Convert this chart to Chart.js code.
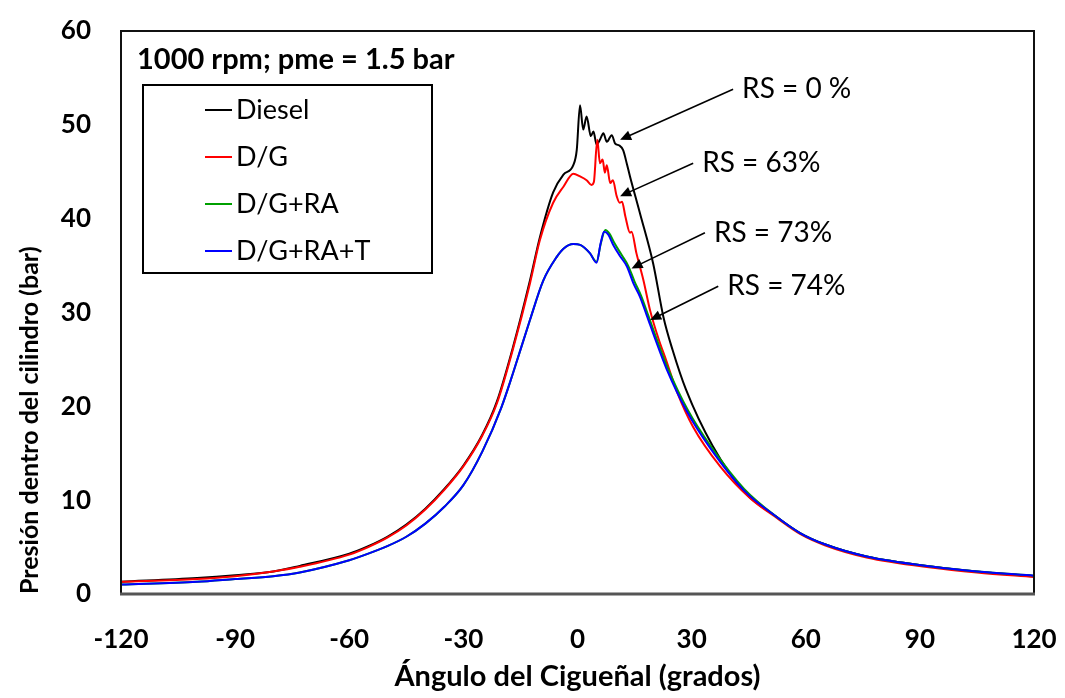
<!DOCTYPE html>
<html>
<head>
<meta charset="utf-8">
<style>
	html, body { margin: 0; padding: 0; background: #fff; }
	.wrapper { width: 1065px; height: 698px; }
</style>
</head>
<body>
<div class="wrapper">
	<canvas id="presion" width="1065" height="698"></canvas>
</div>

<script src="https://cdn.jsdelivr.net/npm/chart.js"></script>

<script>
	// Diesel (RS = 0 %)
	var angDiesel = [-120, -100, -90, -80, -73, -60, -55, -50, -45, -40, -35, -30, -25, -21.2, -16.9, -12.5, -9.9, -6.4, -3.7, -1.1, -0.2,
		0.66, 1.5, 2.4, 3.5, 4.2, 5.0, 6.0, 6.8, 7.7, 9.0, 9.9, 11, 12, 13, 13.8, 16.4, 19.9, 22.6, 25, 28.5, 35.5, 44,
		52.4, 58.5, 65, 76, 93.5, 105, 120];
	var presDiesel = [1.3, 1.7, 2.0, 2.4, 3.0, 4.3, 5.1, 6.1, 7.4, 9.1, 11.2, 13.7, 17.0, 20.5, 26.4, 33.4, 38.0, 42.8, 44.7, 45.7, 47.3,
		52.1, 49.5, 50.9, 48.8, 49.3, 47.9, 48.5, 49.1, 48.2, 48.9, 48.0, 47.8, 47.3, 45.8, 44.5, 40.6, 35.2, 29.5, 26.0, 21.8, 15.8, 10.8,
		8.2, 6.5, 5.3, 4.0, 2.9, 2.4, 1.9];

	// D/G (RS = 63%)
	var angDG = [-120, -100, -90, -80, -73, -60, -55, -50, -45, -40, -35, -30, -25, -21.2, -16.9, -12.5, -9.9, -6.4, -3.7, -1.1, 0.7,
		2.4, 3.7, 4.3, 5.2, 5.9, 6.6, 7.2, 7.7, 8.6, 9.3, 10.3, 11.1, 11.7, 12.6, 13.8, 14.2, 15.5, 17.3, 19.1, 21.3, 23.4, 26.1,
		30.4, 37.5, 45.4, 52.4, 58.5, 65, 76, 93.5, 105, 120];
	var presDG = [1.3, 1.6, 1.9, 2.4, 2.9, 4.2, 5.0, 6.0, 7.3, 9.0, 11.1, 13.6, 16.9, 20.3, 26.2, 33.1, 37.7, 41.7, 43.4, 44.8, 44.5,
		44.1, 43.6, 43.9, 48.4, 45.9, 46.3, 44.9, 45.7, 43.8, 44.1, 42.4, 41.7, 41.8, 40.2, 38.5, 38.6, 36.3, 33.5, 30.2, 27.2, 24.8, 21.6,
		17.8, 13.6, 10.2, 8.1, 6.4, 5.2, 3.9, 2.8, 2.3, 1.8];

	// D/G+RA (RS = 73%)
	var angDGRA = [-120, -100, -90, -80, -73, -60, -55, -50, -45, -40, -35, -30, -25, -20, -16.9, -12.5, -9, -5.5, -3.7, -1.1, 0.7,
		3.3, 5.0, 6.1, 7.3, 8.4, 9.7, 11.5, 13.3, 15.0, 16.7, 18.5, 20.7, 23.7, 29.0, 35.1, 43.8, 52.4, 58.5, 65, 76, 93.5, 105, 120];
	var presDGRA = [1.0, 1.3, 1.6, 1.9, 2.3, 3.6, 4.3, 5.1, 6.1, 7.5, 9.3, 11.6, 15.2, 19.9, 23.6, 29.2, 33.4, 35.9, 36.8, 37.3, 37.2,
		36.3, 35.4, 37.3, 38.8, 38.4, 37.4, 36.2, 35.0, 33.3, 31.8, 29.8, 27.3, 24.1, 19.6, 15.7, 11.2, 8.2, 6.5, 5.3, 4.0, 2.9, 2.4, 1.95];

	// D/G+RA+T (RS = 74%)
	var angDGRAT = [-120, -100, -90, -80, -73, -60, -55, -50, -45, -40, -35, -30, -25, -20, -16.9, -12.5, -9, -5.5, -3.7, -1.1, 0.7,
		3.3, 5.0, 6.1, 7.0, 8.1, 9.4, 11.2, 13.0, 14.7, 16.4, 18.2, 20.4, 23.4, 28.7, 34.8, 43.6, 52.4, 58.5, 65, 76, 93.5, 105, 120];
	var presDGRAT = [1.0, 1.3, 1.6, 1.9, 2.3, 3.6, 4.3, 5.1, 6.1, 7.5, 9.3, 11.6, 15.2, 19.9, 23.6, 29.2, 33.4, 35.9, 36.8, 37.3, 37.2,
		36.3, 35.3, 37.4, 38.6, 38.3, 37.2, 36.0, 34.9, 33.1, 31.7, 29.7, 27.2, 24.0, 19.5, 15.6, 11.1, 8.2, 6.5, 5.3, 4.0, 2.9, 2.4, 1.95];

	var xTicks = [-120, -90, -60, -30, 0, 30, 60, 90, 120];
	var yTicks = [0, 10, 20, 30, 40, 50, 60];

	var seriesNames = ['Diesel', 'D/G', 'D/G+RA', 'D/G+RA+T'];
	var seriesColors = ['#000000', '#ff0000', '#00a000', '#0000ff'];

	// RS labels: text, arrow tail (x, y) and arrow tip (x, y) in data units
	var rsText = ['RS = 0 %', 'RS = 63%', 'RS = 73%', 'RS = 74%'];
	var rsTail = [[40.9, 53.8], [30.4, 45.9], [33.5, 38.5], [37.0, 32.8]];
	var rsTip = [[11.2, 48.4], [11.2, 42.4], [14.2, 34.7], [19.1, 29.2]];

	function toPoints(xs, ys) {
		return xs.map(function (v, i) { return { x: v, y: ys[i] }; });
	}

	var font = 'Lato, "Open Sans", sans-serif';

	// frame, caption, legend and RS arrows
	var extras = {
		id: 'extras',
		afterDatasetsDraw: function (chart) {
			var ctx = chart.ctx;
			var a = chart.chartArea;
			var sx = chart.scales.x, sy = chart.scales.y;
			ctx.save();

			// plot frame
			ctx.strokeStyle = '#111';
			ctx.lineWidth = 2;
			ctx.beginPath();
			ctx.moveTo(a.left, a.bottom);
			ctx.lineTo(a.left, a.top);
			ctx.lineTo(a.right, a.top);
			ctx.lineTo(a.right, a.bottom);
			ctx.stroke();
			ctx.strokeStyle = '#555';
			ctx.lineWidth = 3;
			ctx.beginPath();
			ctx.moveTo(a.left - 1, a.bottom);
			ctx.lineTo(a.right + 1, a.bottom);
			ctx.stroke();

			// caption
			ctx.fillStyle = '#000';
			ctx.font = 'bold 29px ' + font;
			ctx.textBaseline = 'middle';
			ctx.textAlign = 'left';
			ctx.fillText('1000 rpm; pme = 1.5 bar', a.left + 16, a.top + 29);

			// legend box
			var bx = a.left + 22, by = a.top + 54;
			ctx.lineWidth = 2;
			ctx.strokeStyle = '#000';
			ctx.fillStyle = '#fff';
			ctx.fillRect(bx, by, 289, 188);
			ctx.strokeRect(bx, by, 289, 188);
			ctx.font = '27px ' + font;
			seriesNames.forEach(function (n, i) {
				var yy = by + 25 + i * 47;
				ctx.strokeStyle = seriesColors[i];
				ctx.lineWidth = 2;
				ctx.beginPath();
				ctx.moveTo(bx + 62, yy);
				ctx.lineTo(bx + 89, yy);
				ctx.stroke();
				ctx.fillStyle = '#000';
				ctx.fillText(n, bx + 93, yy);
			});

			// RS arrows
			rsText.forEach(function (t, i) {
				var x0 = sx.getPixelForValue(rsTail[i][0]), y0 = sy.getPixelForValue(rsTail[i][1]);
				var x1 = sx.getPixelForValue(rsTip[i][0]), y1 = sy.getPixelForValue(rsTip[i][1]);
				var ang = Math.atan2(y1 - y0, x1 - x0);
				ctx.strokeStyle = '#000';
				ctx.lineWidth = 1.6;
				ctx.beginPath();
				ctx.moveTo(x0, y0);
				ctx.lineTo(x1 - 8 * Math.cos(ang), y1 - 8 * Math.sin(ang));
				ctx.stroke();
				ctx.fillStyle = '#000';
				ctx.beginPath();
				ctx.moveTo(x1, y1);
				ctx.lineTo(x1 - 11 * Math.cos(ang) + 5 * Math.sin(ang), y1 - 11 * Math.sin(ang) - 5 * Math.cos(ang));
				ctx.lineTo(x1 - 11 * Math.cos(ang) - 5 * Math.sin(ang), y1 - 11 * Math.sin(ang) + 5 * Math.cos(ang));
				ctx.closePath();
				ctx.fill();
				ctx.font = '28px ' + font;
				ctx.fillText(t, x0 + 9, y0);
			});
			ctx.restore();
		}
	};

	new Chart(document.getElementById('presion'), {
		type: 'line',
		data: {
			datasets: [
				{ label: seriesNames[0], data: toPoints(angDiesel, presDiesel), borderColor: seriesColors[0], order: 3 },
				{ label: seriesNames[1], data: toPoints(angDG, presDG), borderColor: seriesColors[1], order: 2 },
				{ label: seriesNames[2], data: toPoints(angDGRA, presDGRA), borderColor: seriesColors[2], order: 1 },
				{ label: seriesNames[3], data: toPoints(angDGRAT, presDGRAT), borderColor: seriesColors[3], order: 0 }
			]
		},
		options: {
			responsive: false,
			animation: false,
			events: [],
			layout: { padding: { top: 31, right: 31, left: 0, bottom: 0 } },
			elements: {
				point: { radius: 0 },
				line: { borderWidth: 2, cubicInterpolationMode: 'monotone', fill: false }
			},
			plugins: {
				legend: { display: false },
				tooltip: { enabled: false }
			},
			scales: {
				x: {
					type: 'linear',
					min: -120,
					max: 120,
					afterBuildTicks: function (s) { s.ticks = xTicks.map(function (v) { return { value: v }; }); },
					afterFit: function (s) { s.height = 104; s.paddingLeft = 0; s.paddingRight = 0; },
					grid: { display: false, drawTicks: false },
					border: { display: false },
					ticks: { color: '#000', padding: 30, font: { family: font, size: 26, weight: 'bold' } },
					title: {
						display: true,
						text: 'Ángulo del Cigueñal (grados)',
						color: '#000',
						padding: { top: 0, bottom: 4 },
						font: { family: font, size: 29, weight: 'bold' }
					}
				},
				y: {
					min: 0,
					max: 60,
					afterBuildTicks: function (s) { s.ticks = yTicks.map(function (v) { return { value: v }; }); },
					afterFit: function (s) { s.width = 121; s.paddingTop = 0; s.paddingBottom = 0; },
					grid: { display: false, drawTicks: false },
					border: { display: false },
					ticks: { color: '#000', padding: 30, font: { family: font, size: 26, weight: 'bold' } },
					title: {
						display: true,
						text: 'Presión dentro del cilindro (bar)',
						color: '#000',
						align: 'start',
						padding: { top: 15, bottom: 0 },
						font: { family: font, size: 25, weight: 'bold' }
					}
				}
			}
		},
		plugins: [extras]
	});
</script>
</body>
</html>
